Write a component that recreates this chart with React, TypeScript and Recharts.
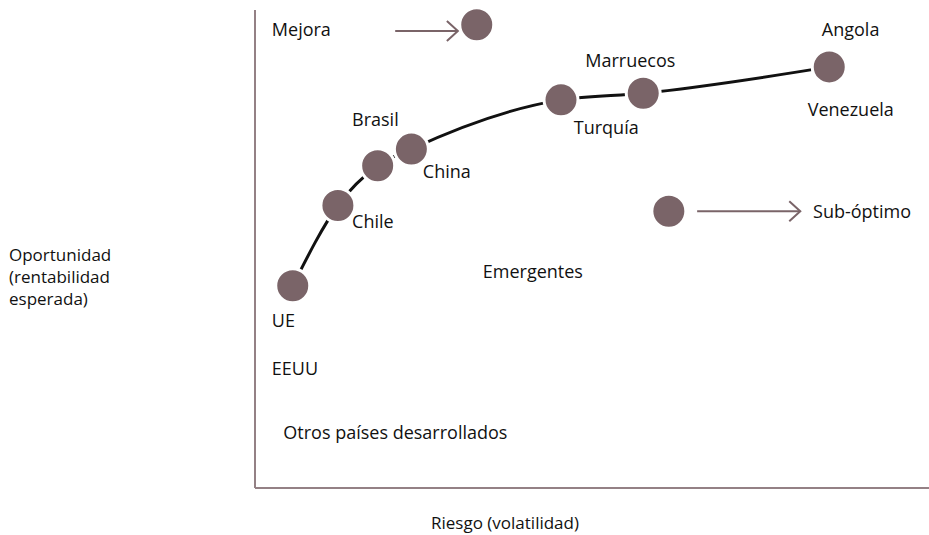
import { ComposedChart, Line, Scatter, XAxis, YAxis, ReferenceLine } from "recharts";

// frontier of countries (x = riesgo, y = oportunidad, 0-100)
const frontier = [
  { x: 5.6, y: 42.3 },
  { x: 12.3, y: 59.1 },
  { x: 18.2, y: 67.4 },
  { x: 23.2, y: 70.9 },
  { x: 45.4, y: 81.2 },
  { x: 57.6, y: 82.6 },
  { x: 85.2, y: 88.1 },
];

const markers = [
  { x: 32.9, y: 96.9 },
  { x: 61.4, y: 57.9 },
];

const labels = [
  { x: 2.5, y: 96.0, text: "Mejora" },
  { x: 84.1, y: 96.0, text: "Angola" },
  { x: 49.0, y: 89.5, text: "Marruecos" },
  { x: 82.0, y: 79.3, text: "Venezuela" },
  { x: 14.4, y: 77.2, text: "Brasil" },
  { x: 47.3, y: 75.5, text: "Turquía" },
  { x: 24.9, y: 66.3, text: "China" },
  { x: 14.4, y: 55.9, text: "Chile" },
  { x: 82.8, y: 57.9, text: "Sub-óptimo" },
  { x: 33.8, y: 45.4, text: "Emergentes" },
  { x: 2.5, y: 35.1, text: "UE" },
  { x: 2.5, y: 25.1, text: "EEUU" },
  { x: 4.2, y: 11.7, text: "Otros países desarrollados" },
];

const arrows = [
  { x1: 20.8, x2: 30.1, y: 95.6 },
  { x1: 65.6, x2: 80.9, y: 57.9 },
];

const yAxisLines = ["Oportunidad", "(rentabilidad", "esperada)"];
const xAxisTitle = "Riesgo (volatilidad)";

const DOT = "#7a6468";
const AXIS = "#948185";
const FONT = "'Open Sans', sans-serif";
const TEXT = "#111";
const FS = 18;

function Arrow(props: any) {
  const { x1, y1, x2, y2 } = props;
  return (
    <g>
      <line x1={x1} y1={y1} x2={x2} y2={y2} stroke={DOT} strokeWidth={2} />
      <polyline
        points={`${x2 - 11},${y2 - 10} ${x2},${y2} ${x2 - 11},${y2 + 10}`}
        fill="none"
        stroke={DOT}
        strokeWidth={2}
      />
    </g>
  );
}

export default function App() {
  return (
    <div style={{ position: "absolute", left: 0, top: 0, background: "#fff" }}>
      <ComposedChart width={929} height={535} margin={{ top: 10, right: 0, bottom: 0, left: 0 }}>
        <XAxis
          type="number"
          dataKey="x"
          domain={[0, 100]}
          height={47}
          tick={false}
          tickLine={false}
          axisLine={{ stroke: AXIS, strokeWidth: 2 }}
          label={{
            content: () => (
              <text x={505} y={522} textAnchor="middle" dominantBaseline="central" fontFamily={FONT} fontSize={17} fill={TEXT}>
                {xAxisTitle}
              </text>
            ),
          }}
        />
        <YAxis
          type="number"
          domain={[0, 100]}
          width={255}
          tick={false}
          tickLine={false}
          axisLine={{ stroke: AXIS, strokeWidth: 2 }}
          label={{
            content: () => (
              <text fontFamily={FONT} fontSize={17} fill={TEXT}>
                {yAxisLines.map((l, i) => (
                  <tspan key={l} x={9} y={254 + i * 22} dominantBaseline="central">
                    {l}
                  </tspan>
                ))}
              </text>
            ),
          }}
        />
        {arrows.map((a, i) => (
          <ReferenceLine
            key={i}
            segment={[
              { x: a.x1, y: a.y },
              { x: a.x2, y: a.y },
            ]}
            shape={Arrow}
          />
        ))}
        <Line
          data={frontier}
          dataKey="y"
          type="monotone"
          stroke="#111"
          strokeWidth={3}
          dot={false}
          isAnimationActive={false}
        />
        <Scatter
          data={[...frontier, ...markers]}
          dataKey="y"
          isAnimationActive={false}
          shape={(p: any) => <circle cx={p.cx} cy={p.cy} r={17} fill={DOT} stroke="#fff" strokeWidth={3} />}
        />
        <Scatter
          data={labels}
          dataKey="y"
          isAnimationActive={false}
          shape={(p: any) => (
            <text x={p.cx} y={p.cy} dominantBaseline="central" fontFamily={FONT} fontSize={FS} fill={TEXT}>
              {p.payload.text}
            </text>
          )}
        />
      </ComposedChart>
    </div>
  );
}
